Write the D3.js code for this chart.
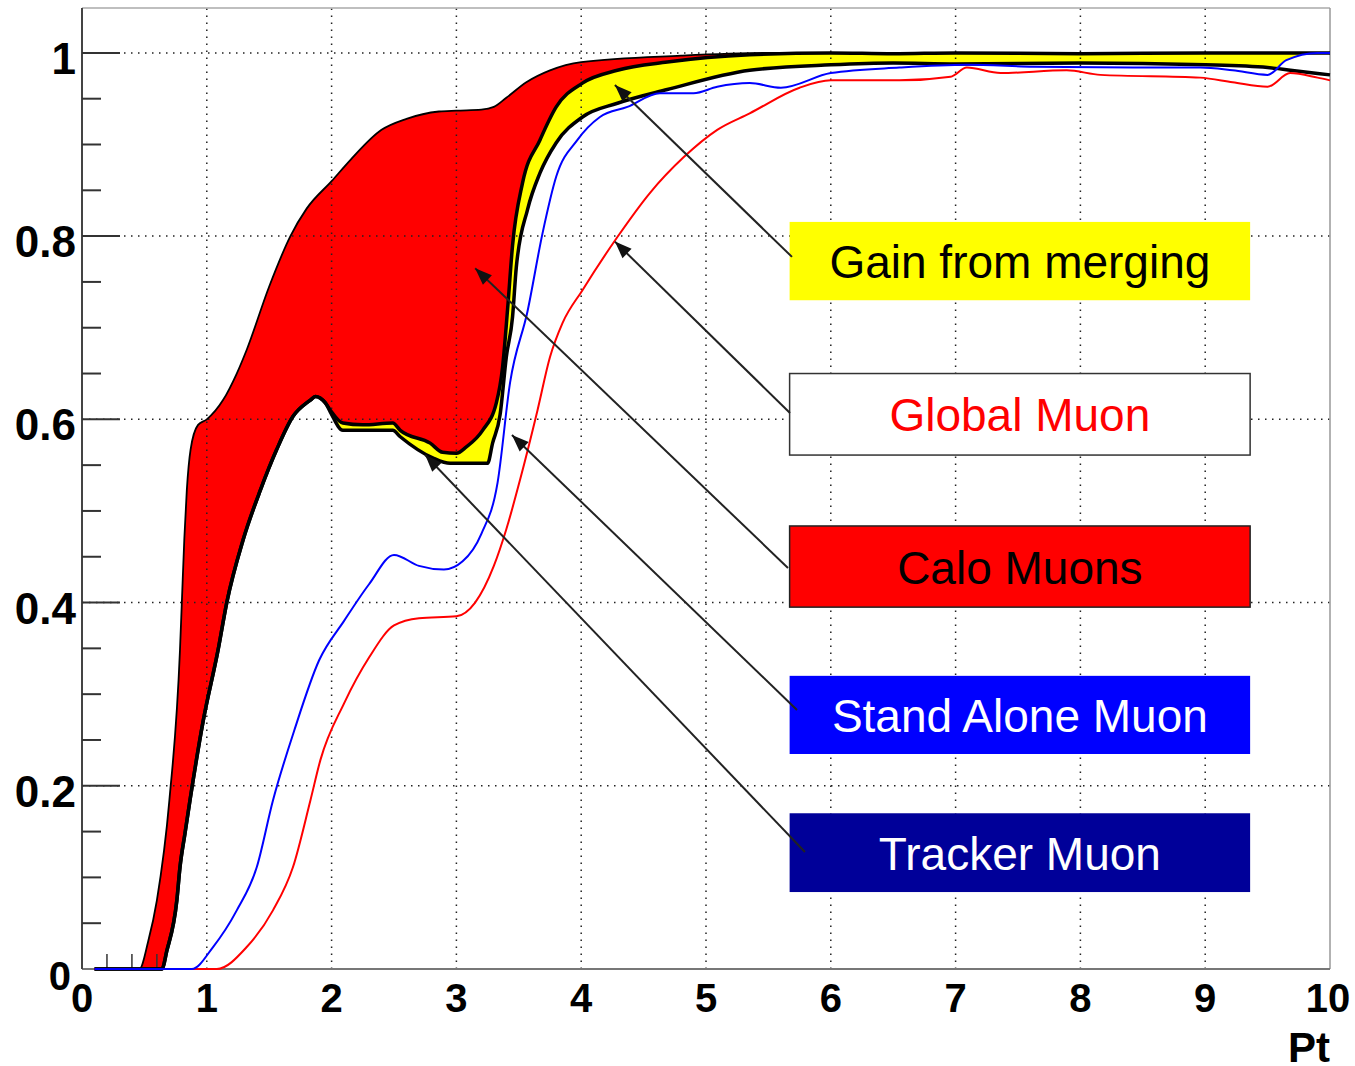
<!DOCTYPE html>
<html>
<head>
<meta charset="utf-8">
<script src="https://cdn.jsdelivr.net/npm/d3@7"></script>
<style>
  html, body { margin: 0; padding: 0; background: #fff; }
  svg text { font-family: "Liberation Sans", Arial, sans-serif; }
</style>
</head>
<body>
<svg id="chart" width="1355" height="1066"></svg>
<script>
// efficiency curves vs Pt as [pt, eff]
var caloUpper = [
    [0.1, 0], [0.46, 0], [0.53, 0.03], [0.60, 0.075], [0.70, 0.184], [0.785, 0.348],
    [0.80, 0.40], [0.82, 0.47], [0.84, 0.523], [0.87, 0.567], [0.93, 0.594], [1.0, 0.60],
    [1.13, 0.621], [1.24, 0.65], [1.32, 0.676], [1.5, 0.745], [1.67, 0.80], [1.8, 0.83],
    [2.0, 0.86], [2.15, 0.883], [2.4, 0.916], [2.6, 0.928], [2.86, 0.936], [3.0, 0.937],
    [3.2, 0.938], [3.3, 0.941], [3.4, 0.951], [3.56, 0.968], [3.75, 0.981], [4.0, 0.99],
    [4.8, 0.997], [5.5, 1.0], [10, 1.0]
];

var trackerLower = [
    [0.1, 0], [0.64, 0], [0.68, 0.02], [0.76, 0.075], [0.785, 0.111], [0.825, 0.148],
    [0.865, 0.184], [0.97, 0.27], [1.09, 0.348], [1.16, 0.40], [1.29, 0.468], [1.43, 0.523],
    [1.56, 0.567], [1.69, 0.603], [1.83, 0.621], [1.87, 0.625], [1.95, 0.618], [1.99, 0.608],
    [2.09, 0.588], [2.25, 0.588], [2.49, 0.588], [2.55, 0.581], [2.81, 0.558], [2.95, 0.552],
    [3.25, 0.552], [3.29, 0.574], [3.35, 0.605], [3.40, 0.668], [3.45, 0.712], [3.48, 0.766],
    [3.57, 0.829], [3.67, 0.869], [3.80, 0.902], [4.01, 0.930], [4.29, 0.945], [4.69, 0.960],
    [5.35, 0.981], [6, 0.987], [6.5, 0.989], [7, 0.988], [8, 0.989], [9, 0.987], [9.5, 0.984],
    [9.75, 0.980], [10, 0.976]
];

// top of the yellow band, after it leaves the tracker curve
var mergedUpper = [
    [1.99, 0.610], [2.09, 0.596], [2.25, 0.594], [2.49, 0.596], [2.55, 0.588], [2.79, 0.574],
    [2.89, 0.564], [3.0, 0.563], [3.08, 0.570], [3.21, 0.588], [3.32, 0.618], [3.37, 0.657],
    [3.41, 0.72], [3.45, 0.79], [3.53, 0.858], [3.67, 0.905], [3.80, 0.941], [4.01, 0.967],
    [4.29, 0.981], [4.69, 0.990], [5.35, 0.998], [6, 1.0], [6.5, 0.999], [7, 1.0], [8, 0.999],
    [9, 1.0], [10, 1.0]
];

var standAlone = [
    [0.1, 0], [0.88, 0], [1.05, 0.024], [1.24, 0.064], [1.40, 0.111], [1.53, 0.184],
    [1.7, 0.26], [1.9, 0.337], [2.1, 0.38], [2.3, 0.42], [2.5, 0.452], [2.7, 0.44],
    [2.9, 0.436], [3.05, 0.445], [3.2, 0.475], [3.33, 0.531], [3.43, 0.640], [3.57, 0.718],
    [3.69, 0.803], [3.80, 0.865], [3.97, 0.905], [4.15, 0.930], [4.37, 0.941], [4.63, 0.956],
    [4.90, 0.956], [5.09, 0.963], [5.35, 0.967], [5.6, 0.962], [6, 0.978], [6.55, 0.984],
    [7.09, 0.987], [7.62, 0.985], [8.42, 0.984], [8.96, 0.984], [9.22, 0.981], [9.50, 0.976],
    [9.65, 0.992], [9.9, 1.0], [10, 1.0]
];

var globalMuon = [
    [0.1, 0], [1.08, 0], [1.32, 0.024], [1.53, 0.064], [1.69, 0.111], [1.83, 0.184],
    [1.91, 0.228], [2.1, 0.29], [2.3, 0.34], [2.5, 0.375], [2.7, 0.383], [3.0, 0.385],
    [3.15, 0.40], [3.3, 0.44], [3.4, 0.48], [3.51, 0.534], [3.65, 0.610], [3.75, 0.668],
    [3.85, 0.705], [4.01, 0.741], [4.29, 0.799], [4.55, 0.847], [4.82, 0.886], [5.09, 0.916],
    [5.35, 0.934], [5.75, 0.962], [6.0, 0.970], [6.55, 0.970], [6.96, 0.974], [7.09, 0.984],
    [7.36, 0.978], [7.89, 0.981], [8.16, 0.976], [8.96, 0.973], [9.22, 0.968], [9.50, 0.963],
    [9.68, 0.978], [9.9, 0.973], [10, 0.970]
];

var xTicks = [0, 1, 2, 3, 4, 5, 6, 7, 8, 9, 10];
var yTicks = [0, 0.2, 0.4, 0.6, 0.8, 1];
var yTickLabels = ["0", "0.2", "0.4", "0.6", "0.8", "1"];
var xMinorTicks = [0.2, 0.4, 0.6];

// legend boxes: eff range of each box, and where its arrow points
var legendNames = ["Gain from merging", "Global Muon", "Calo Muons", "Stand Alone Muon", "Tracker Muon"];
var legendTop = [0.8155, 0.650, 0.4836, 0.320, 0.170];
var legendBottom = [0.730, 0.561, 0.395, 0.2347, 0.084];
var arrowTip = [[4.27, 0.965], [4.27, 0.794], [3.15, 0.765], [3.445, 0.583], [2.75, 0.561]];
var arrowTail = [[5.689, 0.7773], [5.673, 0.607], [5.657, 0.4378], [5.729, 0.2828], [5.793, 0.1277]];
var legendFill = ["#ffff00", "#ffffff", "#ff0000", "#0000ff", "#000099"];
var legendText = ["#000000", "#ff0000", "#000000", "#ffffff", "#ffffff"];
var legendStroke = ["none", "#333", "#222", "none", "none"];
var legendPtRange = [5.67, 9.36];

var svg = d3.select("#chart");
var x = d3.scaleLinear().domain([0, 10]).range([82, 1330]);
var y = d3.scaleLinear().domain([0, 1.049]).range([969, 8]);

var line = d3.line()
    .x(function (d) { return x(d[0]); })
    .y(function (d) { return y(d[1]); })
    .curve(d3.curveMonotoneX);

var area = d3.area()
    .x(function (d) { return x(d[0]); })
    .y0(y(0))
    .y1(function (d) { return y(d[1]); })
    .curve(d3.curveMonotoneX);

// merged curve follows the tracker curve up to the split point
var merged = trackerLower.filter(function (d) { return d[0] < 1.96; }).concat(mergedUpper);

// fills: red calo, yellow gain, white below tracker / stand alone
svg.append("path").attr("d", area(caloUpper)).attr("fill", "#ff0000");
svg.append("path").attr("d", area(merged)).attr("fill", "#ffff00");
svg.append("path").attr("d", area(trackerLower)).attr("fill", "#ffffff");
svg.append("path").attr("d", area(standAlone)).attr("fill", "#ffffff");

// dotted grid
var grid = svg.append("g")
    .attr("stroke", "#222")
    .attr("stroke-width", 1.5)
    .attr("stroke-dasharray", "1.5,5.5");

grid.selectAll("line.vx")
    .data(xTicks.slice(1, 10))
    .enter().append("line")
    .attr("x1", function (d) { return x(d); })
    .attr("x2", function (d) { return x(d); })
    .attr("y1", y(0))
    .attr("y2", y(1.049));

grid.selectAll("line.hy")
    .data(yTicks.slice(1))
    .enter().append("line")
    .attr("x1", x(0))
    .attr("x2", x(10))
    .attr("y1", function (d) { return y(d); })
    .attr("y2", function (d) { return y(d); });

// frame
svg.append("line").attr("x1", x(0)).attr("x2", x(10)).attr("y1", y(1.049)).attr("y2", y(1.049))
    .attr("stroke", "#aaa").attr("stroke-width", 1.5);
svg.append("line").attr("x1", x(10)).attr("x2", x(10)).attr("y1", y(1.049)).attr("y2", y(0))
    .attr("stroke", "#999").attr("stroke-width", 1.5);
svg.append("line").attr("x1", x(0)).attr("x2", x(10)).attr("y1", y(0)).attr("y2", y(0))
    .attr("stroke", "#777").attr("stroke-width", 2);
svg.append("line").attr("x1", x(0)).attr("x2", x(0)).attr("y1", y(1.049)).attr("y2", y(0))
    .attr("stroke", "#444").attr("stroke-width", 2);

// y ticks: every 0.05 short, every 0.2 long
var yMinor = d3.range(1, 21).map(function (i) { return i * 0.05; });
svg.selectAll("line.ytick")
    .data(yMinor)
    .enter().append("line")
    .attr("x1", x(0))
    .attr("x2", function (d, i) { return (i + 1) % 4 === 0 ? x(0) + 38 : x(0) + 19; })
    .attr("y1", function (d) { return y(d); })
    .attr("y2", function (d) { return y(d); })
    .attr("stroke", "#333")
    .attr("stroke-width", 2);

svg.selectAll("line.xtick")
    .data(xMinorTicks)
    .enter().append("line")
    .attr("x1", function (d) { return x(d); })
    .attr("x2", function (d) { return x(d); })
    .attr("y1", y(0))
    .attr("y2", y(0) - 15)
    .attr("stroke", "#333")
    .attr("stroke-width", 1.5);

// curves
svg.append("path").attr("d", line(caloUpper))
    .attr("fill", "none").attr("stroke", "#000").attr("stroke-width", 1.8);
svg.append("path").attr("d", line(merged))
    .attr("fill", "none").attr("stroke", "#000").attr("stroke-width", 3.5);
svg.append("path").attr("d", line(trackerLower))
    .attr("fill", "none").attr("stroke", "#000").attr("stroke-width", 3.5);
svg.append("path").attr("d", line(globalMuon))
    .attr("fill", "none").attr("stroke", "#ff0000").attr("stroke-width", 2);
svg.append("path").attr("d", line(standAlone))
    .attr("fill", "none").attr("stroke", "#0000ff").attr("stroke-width", 2);

// tick labels
svg.selectAll("text.xl")
    .data(xTicks)
    .enter().append("text")
    .attr("x", function (d) { return d === 10 ? x(d) - 2 : x(d); })
    .attr("y", 1012)
    .attr("text-anchor", "middle")
    .attr("font-size", 40)
    .attr("font-weight", "bold")
    .text(function (d) { return d; });

svg.selectAll("text.yl")
    .data(yTicks)
    .enter().append("text")
    .attr("x", function (d) { return d === 0 ? 71 : 76; })
    .attr("y", function (d) { return y(d) + 21; })
    .attr("text-anchor", "end")
    .attr("font-size", function (d) { return d === 0 ? 40 : 44; })
    .attr("font-weight", "bold")
    .text(function (d, i) { return yTickLabels[i]; });

svg.append("text")
    .attr("x", x(10))
    .attr("y", 1062)
    .attr("text-anchor", "end")
    .attr("font-size", 42)
    .attr("font-weight", "bold")
    .text("Pt");

// legend boxes
var boxes = svg.selectAll("g.box")
    .data(legendNames)
    .enter().append("g");

boxes.append("rect")
    .attr("x", x(legendPtRange[0]))
    .attr("width", x(legendPtRange[1]) - x(legendPtRange[0]))
    .attr("y", function (d, i) { return y(legendTop[i]); })
    .attr("height", function (d, i) { return y(legendBottom[i]) - y(legendTop[i]); })
    .attr("fill", function (d, i) { return legendFill[i]; })
    .attr("stroke", function (d, i) { return legendStroke[i]; })
    .attr("stroke-width", 1.5);

boxes.append("text")
    .attr("x", (x(legendPtRange[0]) + x(legendPtRange[1])) / 2)
    .attr("y", function (d, i) { return (y(legendTop[i]) + y(legendBottom[i])) / 2 + 17; })
    .attr("text-anchor", "middle")
    .attr("font-size", 46)
    .attr("fill", function (d, i) { return legendText[i]; })
    .text(function (d) { return d; });

// arrows from boxes to curves
var arrows = svg.selectAll("g.arrow")
    .data(arrowTip)
    .enter().append("g");

arrows.append("line")
    .attr("x1", function (d, i) { return x(arrowTail[i][0]); })
    .attr("y1", function (d, i) { return y(arrowTail[i][1]); })
    .attr("x2", function (d) { return x(d[0]); })
    .attr("y2", function (d) { return y(d[1]); })
    .attr("stroke", "#222")
    .attr("stroke-width", 2);

arrows.append("path")
    .attr("d", function (d, i) {
        var tx = x(d[0]), ty = y(d[1]);
        var ang = Math.atan2(y(arrowTail[i][1]) - ty, x(arrowTail[i][0]) - tx);
        var len = 17, half = 6.5;
        var bx = tx + len * Math.cos(ang), by = ty + len * Math.sin(ang);
        var px = -Math.sin(ang) * half, py = Math.cos(ang) * half;
        return "M" + tx + "," + ty + "L" + (bx + px) + "," + (by + py) + "L" + (bx - px) + "," + (by - py) + "Z";
    })
    .attr("fill", "#111");
</script>
</body>
</html>
